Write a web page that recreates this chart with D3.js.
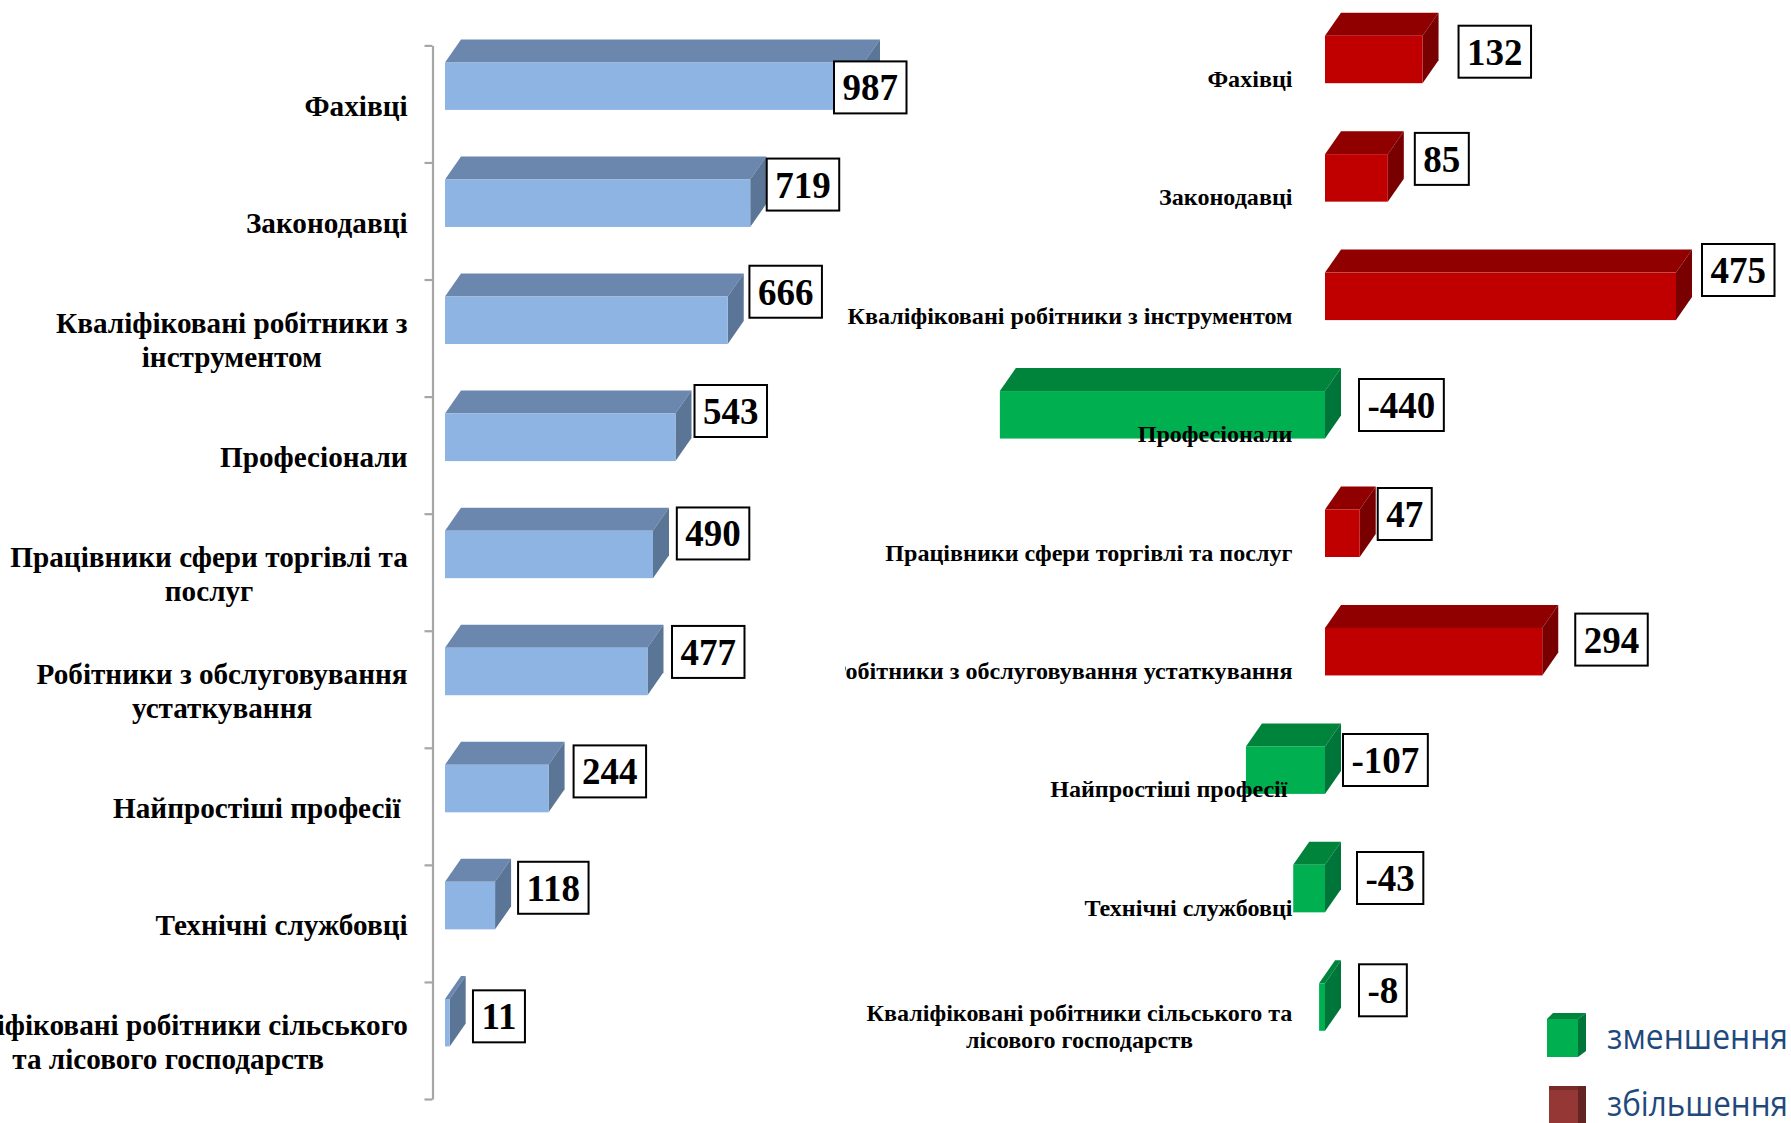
<!DOCTYPE html>
<html>
<head>
<meta charset="utf-8">
<script src="https://cdn.jsdelivr.net/npm/d3@7"></script>
<style>
html, body { margin: 0; padding: 0; background: #fff; }
svg { display: block; }
text { font-family: "Liberation Serif", serif; font-weight: bold; fill: #000; }
</style>
</head>
<body>
<div id="chart"></div>
<script>
// Дані лівої діаграми
var leftCategories = [
  ["Фахівці"],
  ["Законодавці"],
  ["Кваліфіковані робітники з", "інструментом"],
  ["Професіонали"],
  ["Працівники сфери торгівлі та", "послуг"],
  ["Робітники з обслуговування", "устаткування"],
  ["Найпростіші професії"],
  ["Технічні службовці"],
  ["Кваліфіковані робітники сільського", "та лісового господарств"]
];
var leftValues = [987, 719, 666, 543, 490, 477, 244, 118, 11];

// Дані правої діаграми
var rightCategories = [
  ["Фахівці"],
  ["Законодавці"],
  ["Кваліфіковані робітники з інструментом"],
  ["Професіонали"],
  ["Працівники сфери торгівлі та послуг"],
  ["Робітники з обслуговування устаткування"],
  ["Найпростіші професії"],
  ["Технічні службовці"],
  ["Кваліфіковані робітники сільського та", "лісового господарств"]
];
var rightValues = [132, 85, 475, -440, 47, 294, -107, -43, -8];

var legendLabels = ["зменшення", "збільшення"];

// Зсуви підписів значень відносно стовпчика (подібрано вручну)
var leftBoxDx = [-30, 16.5, 21.7, 19, 23.8, 24.5, 25, 23, 23.3];
var leftBoxDy = [16, -3.9, -13.8, -11.6, -6.2, -4.8, -2.4, -3.1, 8.4];
var rightBoxDx = [36, 27, 26, 34, 18, 33, 18, 32, 34];
var rightBoxDy = [7, -4.25, -11.6, 4.95, -4.5, 2.65, 4.6, 4.15, -2];

var width = 1791, height = 1123;
var depthX = 16, depthY = 23, frontH = 47.5;

var svg = d3.select("#chart").append("svg")
  .attr("width", width)
  .attr("height", height);

var defs = svg.append("defs");
defs.append("clipPath").attr("id", "rightClip")
  .append("rect").attr("x", 845).attr("y", 0).attr("width", 500).attr("height", height);

// Рядки шкали: межі категорій, як у кроках осі
var leftIdx = d3.range(leftValues.length);
var leftY = d3.scaleBand().domain(leftIdx).range([45.4, 1099]);
var leftX = d3.scaleLinear().domain([0, 987]).range([445, 864]);

var rightIdx = d3.range(rightValues.length);
var rightY = d3.scaleBand().domain(rightIdx).range([18.7, 1084.75]);
var rightX = d3.scaleLinear().domain([0, 475]).range([1325, 1676]);

// Вісь зліва
var axisScale = d3.scalePoint().domain(d3.range(leftValues.length + 1)).range([45.4, 1099]);
var axisG = svg.append("g")
  .attr("transform", "translate(432.5,0)")
  .call(d3.axisLeft(axisScale).tickFormat("").tickSize(8).tickSizeOuter(0));
axisG.selectAll("path, line").attr("stroke", "#A6A6A6").attr("stroke-width", 2.2);

// Малює 3D-стовпчик: передня грань, верх, бік
function drawBars(g, values, x, y, colors) {
  var row = g.selectAll("g").data(values).enter().append("g");
  var x0 = function (d) { return Math.min(x(0), x(d)); };
  var x1 = function (d) { return Math.max(x(0), x(d)); };
  var top = function (d, i) { return y(i) + 17; };

  row.append("path")
    .attr("fill", function (d) { return colors(d).top; })
    .attr("d", function (d, i) {
      var t = top(d, i);
      return "M" + x0(d) + "," + t + "L" + (x0(d) + depthX) + "," + (t - depthY) +
        "L" + (x1(d) + depthX) + "," + (t - depthY) + "L" + x1(d) + "," + t + "Z";
    });
  row.append("path")
    .attr("fill", function (d) { return colors(d).side; })
    .attr("d", function (d, i) {
      var t = top(d, i);
      return "M" + x1(d) + "," + t + "L" + (x1(d) + depthX) + "," + (t - depthY) +
        "L" + (x1(d) + depthX) + "," + (t - depthY + frontH) + "L" + x1(d) + "," + (t + frontH) + "Z";
    });
  row.append("rect")
    .attr("fill", function (d) { return colors(d).front; })
    .attr("x", x0)
    .attr("y", top)
    .attr("width", function (d) { return x1(d) - x0(d); })
    .attr("height", frontH);
}

var blue = { front: "#8DB4E2", top: "#6C87AE", side: "#5A7596" };
var red = { front: "#C00000", top: "#900000", side: "#780000" };
var green = { front: "#00B050", top: "#00843C", side: "#00753A" };

drawBars(svg.append("g"), leftValues, leftX, leftY, function () { return blue; });
drawBars(svg.append("g"), rightValues, rightX, rightY, function (d) { return d < 0 ? green : red; });

// Підписи категорій: блок вирівняний праворуч, рядки по центру блока
function drawCategoryLabels(g, cats, y, right, size, lineH, base) {
  cats.forEach(function (lines, i) {
    var t = g.append("text").attr("font-size", size).attr("text-anchor", "middle");
    var spans = t.selectAll("tspan").data(lines).enter().append("tspan")
      .text(function (d) { return d; });
    var w = d3.max(spans.nodes(), function (n) { return n.getComputedTextLength(); });
    var r = right - (lines[0] === "Найпростіші професії" ? (size > 25 ? 7 : 5) : 0);
    spans.attr("x", r - w / 2)
      .attr("y", function (d, k) { return y(i) + base + (k - (lines.length - 1) / 2) * lineH; });
  });
}
drawCategoryLabels(svg.append("g"), leftCategories, leftY, 407.6, 29.2, 34, 70.5);
drawCategoryLabels(svg.append("g").attr("clip-path", "url(#rightClip)"), rightCategories, rightY, 1292.5, 24.1, 27, 68);

// Підписи значень у рамках
function drawValueBoxes(g, values, x, y, dx, dy) {
  values.forEach(function (v, i) {
    var box = g.append("rect").attr("fill", "#fff").attr("stroke", "#000").attr("stroke-width", 2);
    var t = g.append("text").attr("font-size", 37).attr("text-anchor", "middle").text(v);
    var w = t.node().getComputedTextLength() + 17;
    var bx = Math.max(x(0), x(v)) + dx[i];
    var by = y(i) + dy[i];
    box.attr("x", bx).attr("y", by).attr("width", w).attr("height", 52);
    t.attr("x", bx + w / 2).attr("y", by + 39);
  });
}
drawValueBoxes(svg.append("g"), leftValues, leftX, leftY, leftBoxDx, leftBoxDy);
drawValueBoxes(svg.append("g"), rightValues, rightX, rightY, rightBoxDx, rightBoxDy);

// Легенда
var legendY = d3.scalePoint().domain(legendLabels).range([1013, 1086]);

function drawLegendLabel(name, baseline) {
  svg.append("text")
    .attr("x", 1607)
    .attr("y", baseline)
    .attr("font-size", 34)
    .attr("textLength", 181)
    .attr("lengthAdjust", "spacingAndGlyphs")
    .style("font-family", "'Open Sans', sans-serif")
    .style("font-weight", "normal")
    .style("fill", "#1F497D")
    .text(name);
}

// зелений кубик зі скошеним верхом
var gy = legendY(legendLabels[0]);
svg.append("path").attr("fill", "#00843C")
  .attr("d", "M1547," + (gy + 6) + "L1553," + gy + "L1586," + gy + "L1578," + (gy + 6) + "Z");
svg.append("path").attr("fill", "#00753A")
  .attr("d", "M1578," + (gy + 6) + "L1586," + gy + "L1586," + (gy + 38) + "L1578," + (gy + 44) + "Z");
svg.append("rect").attr("fill", "#00B050").attr("x", 1547).attr("y", gy + 6).attr("width", 31).attr("height", 38);
drawLegendLabel(legendLabels[0], gy + 36);

// бордовий кубик
var ry = legendY(legendLabels[1]);
svg.append("rect").attr("fill", "#772C2A").attr("x", 1549).attr("y", ry).attr("width", 37).attr("height", 4);
svg.append("rect").attr("fill", "#632523").attr("x", 1578).attr("y", ry).attr("width", 8).attr("height", 37);
svg.append("rect").attr("fill", "#953735").attr("x", 1549).attr("y", ry + 4).attr("width", 29).attr("height", 33);
drawLegendLabel(legendLabels[1], ry + 30);
</script>
</body>
</html>
